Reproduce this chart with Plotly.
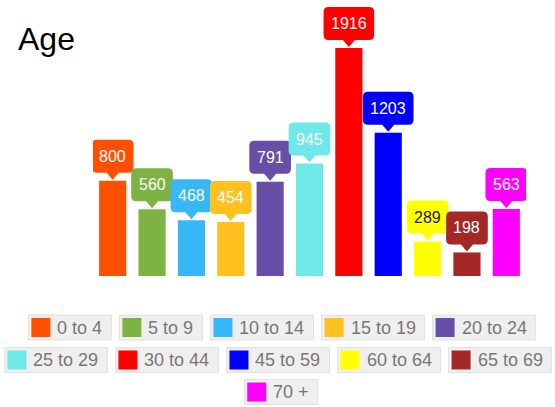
import plotly.graph_objects as go

categories = ["0 to 4", "5 to 9", "10 to 14", "15 to 19", "20 to 24", "25 to 29",
              "30 to 44", "45 to 59", "60 to 64", "65 to 69", "70 +"]
values = [800, 560, 468, 454, 791, 945, 1916, 1203, 289, 198, 563]
colors = ["#FF5000", "#7CB342", "#35B8F5", "#FFC120", "#674EA7", "#6FE8E9",
          "#FF0000", "#0000FF", "#FFFF00", "#A42828", "#FF00FF"]
label_colors = ["white"] * 8 + ["#222222", "white", "white"]
legend_rows = [[0, 1, 2, 3, 4], [5, 6, 7, 8, 9], [10]]

FONT = "Liberation Sans, Arial, sans-serif"
W, H = 555, 407
BASE = 276      # pixel row of the bar baseline
TOPBAR = 48     # pixel row of the tallest bar's top
PL, PR, PT = 93, 29, 0
PB = H - BASE
PW = W - PL - PR
PH = BASE - PT
ymax = max(values) * PH / (BASE - TOPBAR)

# Arial-like glyph widths (em)
CW = {c: 0.556 for c in "0123456789o"}
CW.update({" ": 0.278, "t": 0.278, "+": 0.584})


def text_w(s, size):
    return sum(CW.get(c, 0.556) for c in s) * size


fig = go.Figure()
fig.add_trace(go.Bar(
    x=list(range(len(categories))), y=values,
    marker=dict(color=colors, line=dict(width=0)),
    hoverinfo="skip", showlegend=False,
))

shapes = []
annotations = []

# callout labels above bars
for i, (v, c) in enumerate(zip(values, colors)):
    tw = text_w(str(v), 16)
    hw = (tw + 15) / 2
    r = 5
    yb, yt = 8, 41
    path = (f"M 0,1 L -6,{yb} L {-hw + r},{yb} Q {-hw},{yb} {-hw},{yb + r} "
            f"L {-hw},{yt - r} Q {-hw},{yt} {-hw + r},{yt} "
            f"L {hw - r},{yt} Q {hw},{yt} {hw},{yt - r} "
            f"L {hw},{yb + r} Q {hw},{yb} {hw - r},{yb} L 6,{yb} Z")
    shapes.append(dict(type="path", xref="x", yref="y",
                       xsizemode="pixel", ysizemode="pixel",
                       xanchor=i, yanchor=v, path=path,
                       fillcolor=c, line=dict(width=0), layer="above"))
    annotations.append(dict(x=i, y=v, xref="x", yref="y", text=str(v),
                            showarrow=False, yshift=24.5, yanchor="middle",
                            xanchor="center",
                            font=dict(family=FONT, size=16, color=label_colors[i])))


def px_x(p):
    return (p - PL) / PW


def px_y(p):
    return (BASE - p) / PH


# legend built from categories / colors
row_centers = [327.5, 360, 392]
row_mid_x = [282, 278, 281]
gap = 8
for row, yc, cx in zip(legend_rows, row_centers, row_mid_x):
    widths = [3 + 19 + 5 + text_w(categories[k], 18) + 11 for k in row]
    total = sum(widths) + gap * (len(row) - 1)
    x = cx - total / 2
    for k, w in zip(row, widths):
        shapes.append(dict(type="rect", xref="paper", yref="paper",
                           x0=px_x(x), x1=px_x(x + w),
                           y0=px_y(yc + 12.5), y1=px_y(yc - 12.5),
                           fillcolor="#EFEFEF", line=dict(color="#E2E2E2", width=1)))
        shapes.append(dict(type="rect", xref="paper", yref="paper",
                           x0=px_x(x + 3), x1=px_x(x + 22),
                           y0=px_y(yc + 9.5), y1=px_y(yc - 9.5),
                           fillcolor=colors[k], line=dict(width=0)))
        annotations.append(dict(x=px_x(x + 27), y=px_y(yc), xref="paper", yref="paper",
                                text=categories[k], showarrow=False,
                                xanchor="left", yanchor="middle",
                                font=dict(family=FONT, size=18, color="#777777")))
        x += w + gap

fig.update_layout(
    width=W, height=H,
    margin=dict(l=PL, r=PR, t=PT, b=PB, pad=0),
    paper_bgcolor="white", plot_bgcolor="white",
    bargap=0.31,
    title=dict(text="Age", x=18 / W, xanchor="left", xref="container",
               y=1 - 39 / H, yanchor="middle", yref="container",
               font=dict(family=FONT, size=32, color="black")),
    xaxis=dict(range=[-0.5, len(categories) - 0.5], showgrid=False, zeroline=False,
               showticklabels=False, fixedrange=True),
    yaxis=dict(range=[0, ymax], showgrid=False, zeroline=False,
               showticklabels=False, fixedrange=True),
    shapes=shapes, annotations=annotations,
    showlegend=False,
)

fig.write_html("out.html", config={"displayModeBar": False},
               post_script="document.body.style.margin='0';")
